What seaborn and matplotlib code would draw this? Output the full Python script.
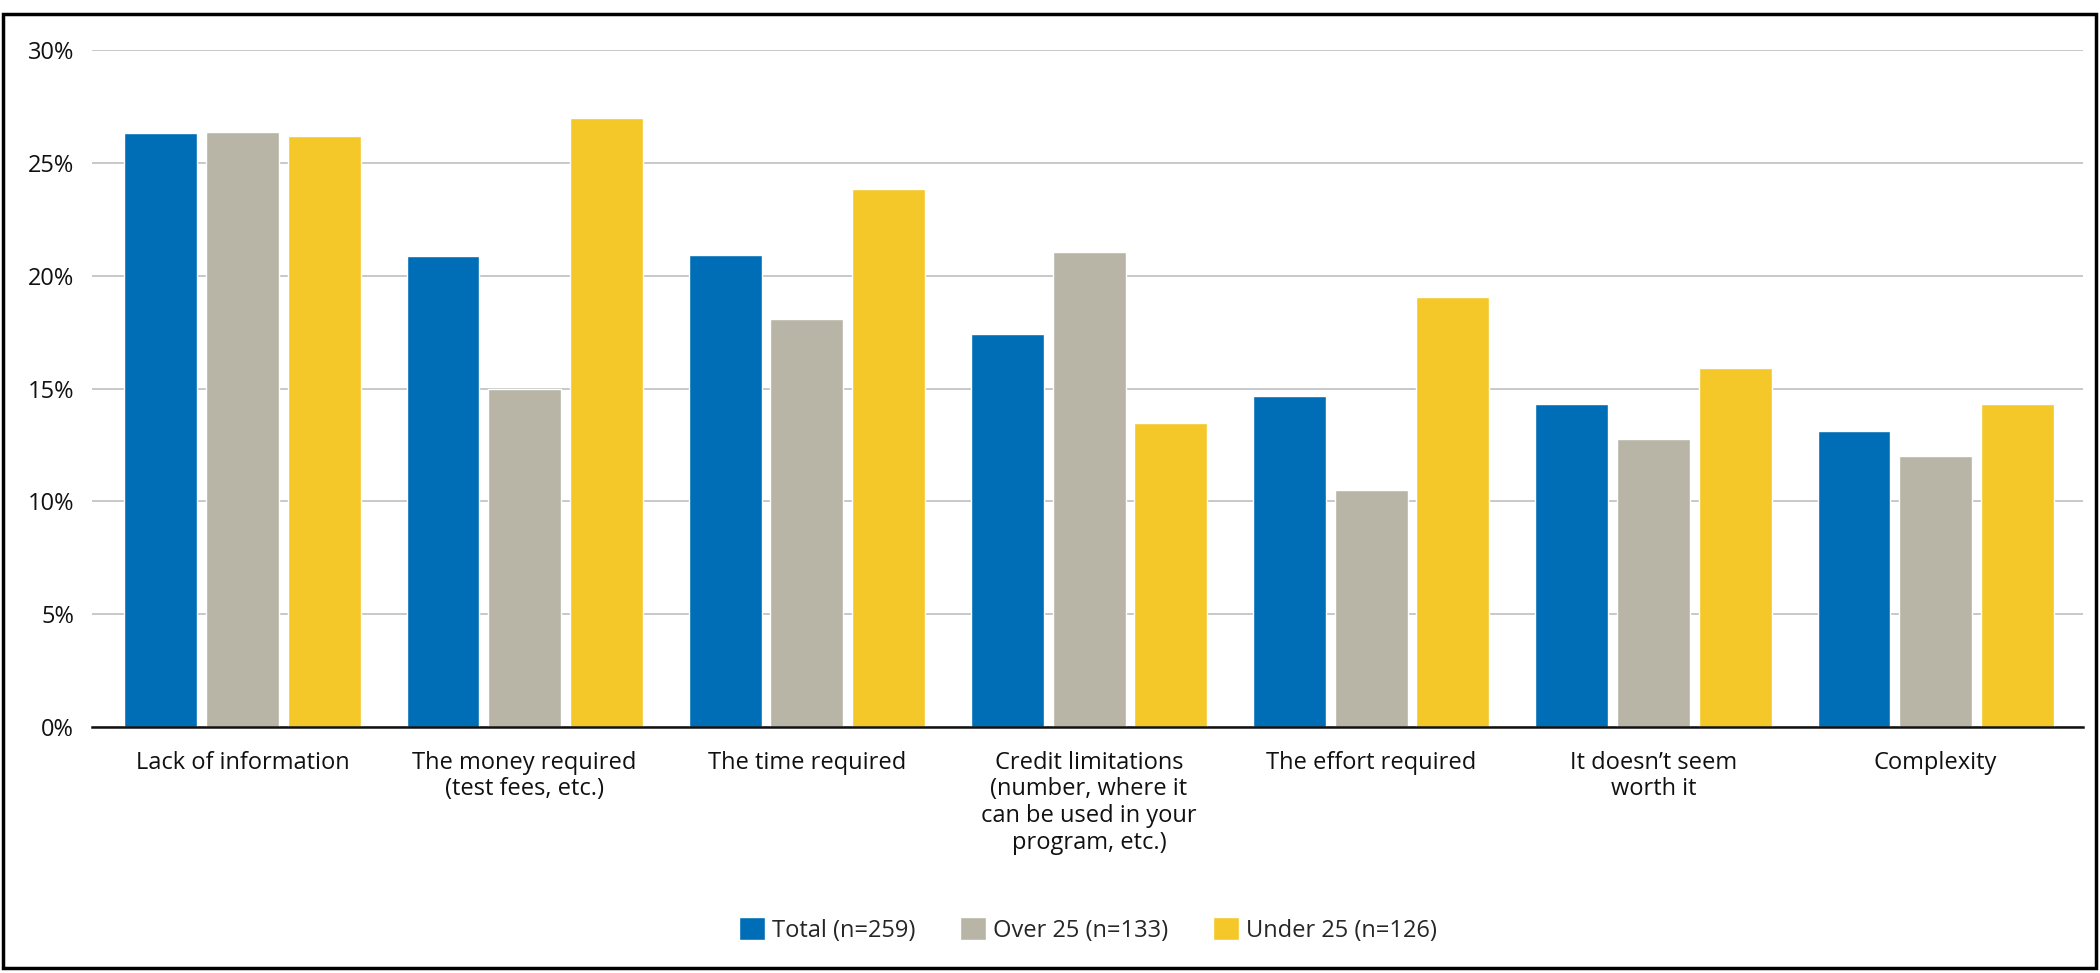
import matplotlib
matplotlib.use("Agg")
import matplotlib.pyplot as plt
from matplotlib import font_manager
from matplotlib.patches import Rectangle
from matplotlib.ticker import PercentFormatter
import seaborn as sns
import pandas as pd

categories = [
    "Lack of information",
    "The money required\n(test fees, etc.)",
    "The time required",
    "Credit limitations\n(number, where it\ncan be used in your\nprogram, etc.)",
    "The effort required",
    "It doesn\u2019t seem\nworth it",
    "Complexity",
]
series_names = ["Total (n=259)", "Over 25 (n=133)", "Under 25 (n=126)"]
total = [26.3, 20.85, 20.9, 17.4, 14.65, 14.3, 13.1]
over25 = [26.35, 15.0, 18.06, 21.05, 10.5, 12.75, 12.0]
under25 = [26.2, 27.0, 23.85, 13.45, 19.05, 15.9, 14.3]
yticks = [0, 5, 10, 15, 20, 25, 30]
colors = ["#006EB6", "#B8B5A6", "#F4C829"]

rows = []
for name, vals in zip(series_names, [total, over25, under25]):
    for c, v in zip(categories, vals):
        rows.append({"category": c, "series": name, "value": v})
df = pd.DataFrame(rows)

sns.set_theme(style="white")

family = "Open Sans"
for cand in ["Liberation Sans Narrow", "Open Sans"]:
    try:
        font_manager.findfont(font_manager.FontProperties(family=cand, weight="normal"),
                              fallback_to_default=False)
        family = cand
        break
    except Exception:
        continue
plt.rcParams["font.family"] = [family, "DejaVu Sans"]
plt.rcParams["font.weight"] = "normal"

FS = 19 if family == "Liberation Sans Narrow" else 17

fig = plt.figure(figsize=(21, 9.73), dpi=100)
ax = fig.add_axes([92 / 2100, 1 - 727 / 973, (2083 - 92) / 2100, (727 - 50) / 973])

sns.barplot(data=df, x="category", y="value", hue="series", order=categories,
            hue_order=series_names, palette=colors, width=0.868, gap=0.107,
            saturation=1, ax=ax, legend=True)

ax.set_xlim(-0.533, len(categories) - 0.5 + 0.022)
ax.set_ylim(0, 30)
ax.set_yticks(yticks)
ax.yaxis.set_major_formatter(PercentFormatter(decimals=0))
ax.set_xlabel("")
ax.set_ylabel("")
ax.grid(axis="y", color="#BFBFBF", linewidth=1.2)
ax.set_axisbelow(True)
for s in ["top", "right", "left"]:
    ax.spines[s].set_visible(False)
ax.spines["bottom"].set_color("#111111")
ax.spines["bottom"].set_linewidth(1.8)
ax.tick_params(axis="both", length=0, labelsize=FS, colors="#111111")
ax.tick_params(axis="y", pad=13)
ax.tick_params(axis="x", pad=17)
for lbl in ax.get_xticklabels():
    lbl.set_linespacing(1.15)

handles, labels = ax.get_legend_handles_labels()
ax.legend_.remove()
leg = fig.legend(handles, labels, loc="center", bbox_to_anchor=(1088 / 2100, 1 - 930 / 973),
                 ncol=3, frameon=False, fontsize=FS, handlelength=1.1, handleheight=1.1,
                 handletextpad=0.3, columnspacing=1.9)

fig.patches.append(Rectangle((3 / 2100, 1 - 968 / 973), (2096 - 3) / 2100, (968 - 14) / 973,
                             transform=fig.transFigure, fill=False, edgecolor="black",
                             linewidth=2.5, zorder=10))

fig.savefig("out.png", dpi=100)
